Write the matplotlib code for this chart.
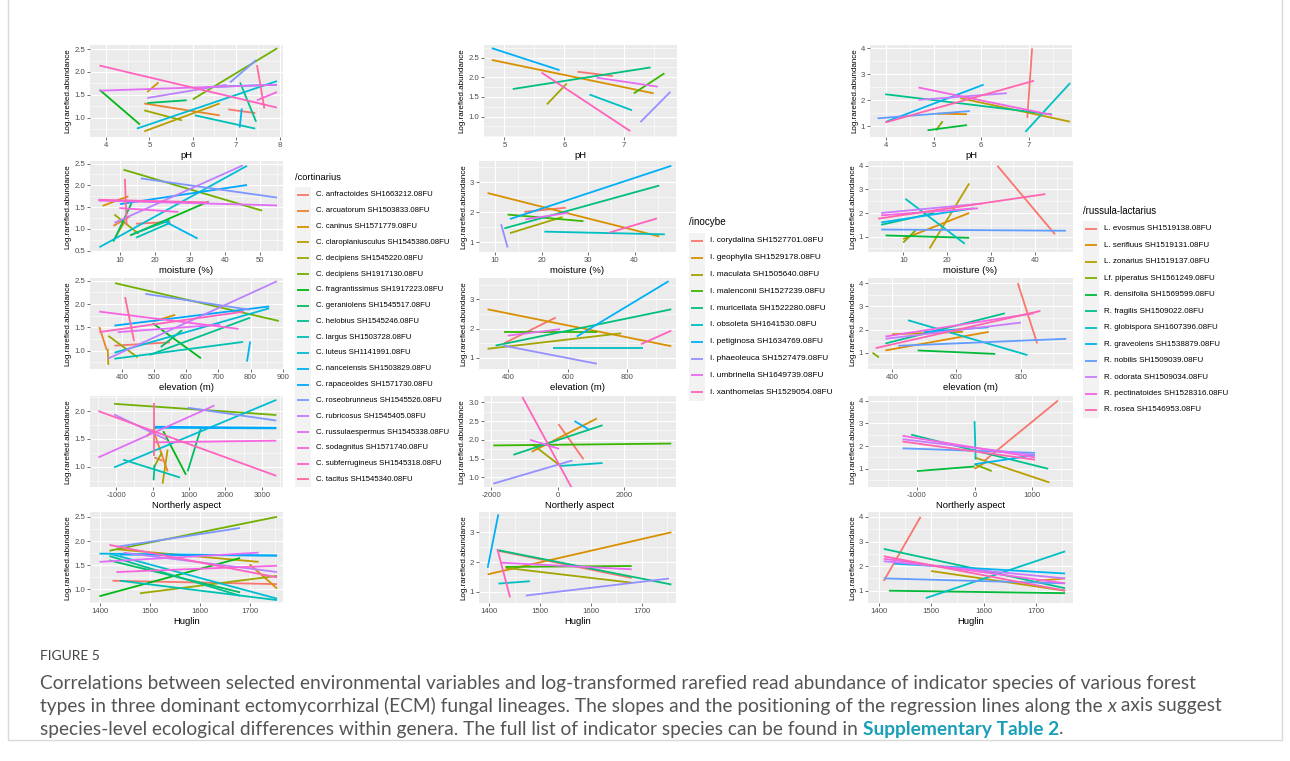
import matplotlib
matplotlib.use('Agg')
import matplotlib.pyplot as plt
import matplotlib.ticker as mtick
from matplotlib.patches import Rectangle
import numpy as np

# ---------- DATA ----------
cort_names = ['C. anfractoides SH1663212.08FU', 'C. arcuatorum SH1503833.08FU', 'C. caninus SH1571779.08FU',
              'C. claroplaniusculus SH1545386.08FU', 'C. decipiens SH1545220.08FU', 'C. decipiens SH1917130.08FU',
              'C. fragrantissimus SH1917223.08FU', 'C. geraniolens SH1545517.08FU', 'C. helobius SH1545246.08FU',
              'C. largus SH1503728.08FU', 'C. luteus SH1141991.08FU', 'C. nanceiensis SH1503829.08FU',
              'C. rapaceoides SH1571730.08FU', 'C. roseobrunneus SH1545526.08FU', 'C. rubricosus SH1545405.08FU',
              'C. russulaespermus SH1545338.08FU', 'C. sodagnitus SH1571740.08FU', 'C. subferrugineus SH1545318.08FU',
              'C. tacitus SH1545340.08FU']
ino_names = ['I. corydalina SH1527701.08FU', 'I. geophylla SH1529178.08FU', 'I. maculata SH1505640.08FU',
             'I. malenconii SH1527239.08FU', 'I. muricellata SH1522280.08FU', 'I. obsoleta SH1641530.08FU',
             'I. petiginosa SH1634769.08FU', 'I. phaeoleuca SH1527479.08FU', 'I. umbrinella SH1649739.08FU',
             'I. xanthomelas SH1529054.08FU']
rus_names = ['L. evosmus SH1519138.08FU', 'L. serifluus SH1519131.08FU', 'L. zonarius SH1519137.08FU',
             'Lf. piperatus SH1561249.08FU', 'R. densifolia SH1569599.08FU', 'R. fragilis SH1509022.08FU',
             'R. globispora SH1607396.08FU', 'R. graveolens SH1538879.08FU', 'R. nobilis SH1509039.08FU',
             'R. odorata SH1509034.08FU', 'R. pectinatoides SH1528316.08FU', 'R. rosea SH1546953.08FU']

# regression lines: (species, x start, y start, x end, y end)
cort_ph = [(0, 6.82, 1.18, 7.44, 1.10), (1, 4.88, 1.31, 6.62, 1.05), (2, 4.95, 1.56, 5.21, 1.77),
           (3, 4.88, 0.70, 6.62, 1.31), (4, 4.88, 1.16, 5.75, 0.94), (5, 6.0, 1.40, 7.95, 2.52),
           (6, 3.85, 1.61, 4.78, 0.85), (7, 4.95, 1.32, 5.86, 1.38), (8, 7.09, 1.77, 7.46, 0.91),
           (9, 6.05, 1.05, 7.44, 0.76), (10, 4.71, 0.76, 7.94, 1.80), (11, 7.08, 0.78, 7.13, 1.20),
           (12, 6.32, 1.67, 7.94, 1.72), (13, 6.86, 1.77, 7.46, 2.26), (14, 4.95, 1.43, 6.78, 1.72),
           (15, 3.85, 1.59, 7.94, 1.72), (16, 7.48, 1.38, 7.94, 1.56), (17, 3.85, 2.14, 7.94, 1.22),
           (18, 7.48, 2.15, 7.65, 1.20)]
cort_moist = [(0, 14.6, 1.12, 24.4, 1.16), (1, 8.1, 1.07, 12.9, 1.29), (2, 5.0, 1.53, 12.4, 1.75),
              (3, 8.1, 0.73, 11.4, 1.18), (4, 8.4, 1.33, 15.3, 0.89), (5, 11.0, 2.36, 50.7, 1.42),
              (6, 12.9, 0.85, 35.4, 1.63), (7, 8.1, 0.71, 13.3, 1.59), (8, 13.6, 0.88, 24.2, 1.20),
              (9, 14.6, 0.80, 24.4, 1.14), (10, 4.1, 0.58, 46.4, 2.45), (11, 22.4, 1.19, 32.2, 0.78),
              (12, 10.0, 1.57, 46.4, 2.01), (13, 16.0, 2.16, 55.0, 1.72), (14, 8.4, 1.14, 45.2, 2.46),
              (15, 3.8, 1.65, 55.0, 1.54), (16, 9.8, 1.48, 26.7, 1.39), (17, 3.8, 1.67, 35.4, 1.61),
              (18, 11.4, 2.15, 11.9, 1.10)]
cort_elev = [(0, 377, 1.11, 550, 1.18), (1, 330, 1.51, 353, 1.02), (2, 498, 1.63, 566, 1.77),
             (3, 356, 1.04, 358, 0.70), (4, 358, 1.32, 449, 0.86), (5, 379, 2.45, 888, 1.64),
             (6, 496, 1.59, 646, 0.84), (7, 521, 1.08, 587, 1.44), (8, 486, 0.91, 799, 1.71),
             (9, 377, 0.83, 777, 1.19), (10, 377, 0.96, 858, 1.91), (11, 789, 0.77, 799, 1.20),
             (12, 377, 1.54, 858, 1.95), (13, 473, 2.22, 797, 1.88), (14, 356, 0.83, 882, 2.49),
             (15, 387, 1.40, 706, 1.56), (16, 330, 1.84, 763, 1.47), (17, 330, 1.40, 779, 1.84),
             (18, 410, 2.15, 438, 1.21)]
cort_asp = [(0, 46, 1.17, 275, 1.11), (1, 46, 1.61, 413, 0.92), (2, -165, 1.55, 92, 1.70),
            (3, 275, 0.70, 413, 1.31), (4, 28, 0.98, 257, 1.26), (5, -1055, 2.13, 3394, 1.93),
            (6, 294, 1.64, 917, 0.86), (7, 963, 0.92, 1330, 1.70), (8, 28, 0.76, 55, 1.04),
            (9, -807, 1.13, 752, 0.81), (10, -1055, 0.99, 3394, 2.20), (11, 46, 1.70, 3394, 1.69),
            (12, 46, 1.72, 3394, 1.70), (13, 963, 2.06, 3394, 1.83), (14, -1055, 1.94, 385, 1.49),
            (15, -1486, 1.17, 1697, 2.10), (16, 46, 1.44, 3394, 1.47), (17, -1486, 2.00, 3394, 0.84),
            (18, 37, 2.15, 37, 1.19)]
cort_hug = [(0, 1425, 1.18, 1755, 1.11), (2, 1700, 1.52, 1755, 1.02), (3, 1433, 1.83, 1718, 1.57),
            (4, 1480, 0.92, 1755, 1.28), (5, 1419, 1.80, 1755, 2.50), (6, 1399, 0.86, 1681, 1.65),
            (7, 1419, 1.60, 1681, 0.94), (8, 1419, 1.69, 1681, 0.87), (9, 1440, 1.18, 1755, 0.78),
            (10, 1419, 1.74, 1755, 0.81), (11, 1399, 1.74, 1755, 1.70), (12, 1440, 1.72, 1755, 1.70),
            (13, 1433, 1.88, 1681, 2.27), (14, 1447, 1.76, 1755, 1.36), (15, 1399, 1.57, 1718, 1.76),
            (16, 1433, 1.36, 1755, 1.49), (17, 1419, 1.92, 1755, 1.25)]

ino_ph = [(0, 6.22, 2.14, 6.81, 2.03), (1, 4.79, 2.44, 7.49, 1.59), (2, 5.71, 1.31, 6.04, 1.84),
          (3, 7.16, 1.59, 7.67, 2.10), (4, 5.14, 1.70, 7.44, 2.25), (5, 6.42, 1.56, 7.13, 1.16),
          (6, 4.79, 2.74, 5.92, 2.18), (7, 7.27, 0.86, 7.77, 1.63), (8, 6.54, 1.99, 7.56, 1.76),
          (9, 5.62, 2.12, 7.10, 0.63)]
ino_moist = [(0, 16.3, 2.01, 25.2, 2.15), (1, 8.4, 2.64, 45.3, 1.19), (2, 13.2, 1.30, 24.5, 1.84),
             (3, 12.7, 1.92, 29.0, 1.70), (4, 12.0, 1.46, 45.3, 2.89), (5, 20.6, 1.35, 46.5, 1.26),
             (6, 13.2, 1.77, 47.9, 3.55), (7, 11.3, 1.60, 12.7, 0.82), (8, 16.5, 1.76, 25.8, 1.98),
             (9, 34.6, 1.32, 44.8, 1.79)]
ino_elev = [(0, 386, 1.50, 560, 2.38), (1, 330, 2.66, 950, 1.40), (2, 330, 1.31, 781, 1.84),
            (3, 386, 1.87, 699, 1.87), (4, 357, 1.42, 950, 2.66), (5, 552, 1.34, 856, 1.34),
            (6, 631, 1.73, 941, 3.62), (7, 383, 1.42, 699, 0.80), (8, 398, 1.76, 575, 1.98),
            (9, 848, 1.47, 950, 1.93)]
ino_asp = [(0, 20, 2.42, 774, 1.48), (1, -784, 1.68, 1176, 2.57), (2, -764, 1.88, 40, 1.33),
           (3, -1940, 1.85, 3417, 1.90), (4, -1337, 1.60, 1347, 2.39), (5, 40, 1.30, 1347, 1.38),
           (6, 503, 2.50, 945, 2.27), (7, -1940, 0.83, 442, 1.45), (8, -834, 2.00, 40, 1.76),
           (9, -1065, 3.14, 442, 0.68)]
ino_hug = [(0, 1418, 2.38, 1680, 1.47), (1, 1397, 1.59, 1758, 3.00), (2, 1432, 1.81, 1680, 1.31),
           (3, 1432, 1.84, 1680, 1.87), (4, 1418, 2.40, 1758, 1.25), (5, 1418, 1.28, 1480, 1.36),
           (6, 1397, 1.81, 1418, 3.60), (7, 1472, 0.88, 1753, 1.45), (8, 1424, 1.98, 1680, 1.76),
           (9, 1416, 2.44, 1441, 0.82)]

rus_ph = [(0, 6.97, 1.32, 7.07, 4.00), (1, 5.07, 1.48, 5.70, 1.46), (2, 5.56, 2.08, 7.87, 1.17),
          (3, 5.05, 0.84, 5.19, 1.19), (4, 4.87, 0.84, 5.70, 1.04), (5, 3.98, 2.23, 7.49, 1.45),
          (6, 6.93, 0.78, 7.87, 2.66), (7, 4.00, 1.17, 6.05, 2.60), (8, 3.82, 1.30, 5.76, 1.58),
          (9, 4.68, 2.01, 6.54, 2.27), (10, 4.68, 2.49, 7.49, 1.43), (11, 3.98, 1.14, 7.11, 2.75)]
rus_moist = [(0, 31.4, 4.00, 44.5, 1.10), (1, 10.0, 0.90, 25.0, 2.00), (2, 16.0, 0.50, 25.0, 3.25),
             (3, 10.0, 0.75, 13.0, 1.30), (4, 6.0, 1.05, 25.0, 0.95), (5, 5.0, 1.50, 17.0, 2.00),
             (6, 10.5, 2.60, 24.0, 0.70), (7, 5.0, 1.60, 26.0, 2.20), (8, 5.0, 1.30, 47.0, 1.25),
             (9, 5.0, 2.00, 28.0, 2.40), (10, 5.0, 1.90, 27.0, 2.20), (11, 4.3, 1.76, 42.3, 2.80)]
rus_elev = [(0, 790, 4.00, 850, 1.40), (1, 380, 1.10, 700, 1.90), (2, 400, 1.80, 620, 1.90),
            (3, 340, 1.00, 360, 0.80), (4, 480, 1.10, 720, 0.95), (5, 380, 1.40, 750, 2.70),
            (6, 450, 2.40, 820, 0.90), (7, 500, 1.90, 700, 2.10), (8, 420, 1.30, 940, 1.60),
            (9, 380, 1.60, 800, 2.30), (10, 380, 1.70, 840, 2.70), (11, 350, 1.20, 860, 2.80)]
rus_asp = [(0, 170, 1.35, 1450, 4.00), (1, 0, 1.00, 200, 1.30), (2, 0, 1.50, 1300, 0.40),
           (3, 0, 1.20, 300, 0.90), (4, -1000, 0.90, 0, 1.10), (5, -1100, 2.50, 1280, 1.00),
           (6, 0, 3.10, 20, 1.40), (7, 0, 1.20, 1050, 1.60), (8, -1250, 1.90, 1050, 1.70),
           (9, -1250, 2.30, 1050, 1.60), (10, -1250, 2.45, 1050, 1.50), (11, -1250, 2.20, 1050, 1.40)]
rus_hug = [(0, 1410, 1.40, 1480, 4.00), (1, 1700, 1.40, 1755, 1.50), (2, 1500, 1.80, 1755, 1.00),
           (4, 1420, 1.00, 1755, 0.90), (5, 1410, 2.70, 1755, 1.10), (6, 1490, 0.70, 1755, 2.60),
           (7, 1430, 2.10, 1755, 1.70), (8, 1410, 1.50, 1755, 1.30), (9, 1410, 2.20, 1755, 1.50),
           (10, 1410, 2.30, 1755, 1.30), (11, 1410, 2.40, 1755, 1.00)]

caption_lines = [
    'Correlations between selected environmental variables and log-transformed rarefied read abundance of indicator species of various forest',
    'types in three dominant ectomycorrhizal (ECM) fungal lineages. The slopes and the positioning of the regression lines along the ',
    'species-level ecological differences within genera. The full list of indicator species can be found in ',
]


# ---------- COLOURS (ggplot hue palette) ----------
def hue_pal(n):
    hs = np.radians((np.linspace(15, 375, n + 1)[:-1]) % 360)
    L, C = 65.0, 100.0
    Xn, Yn, Zn = 95.047, 100.0, 108.883
    Y = Yn * ((L + 16) / 116) ** 3
    un = 4 * Xn / (Xn + 15 * Yn + 3 * Zn)
    vn = 9 * Yn / (Xn + 15 * Yn + 3 * Zn)
    cols = []
    M = np.array([[3.240479, -1.537150, -0.498535],
                  [-0.969256, 1.875992, 0.041556],
                  [0.055648, -0.204043, 1.057311]])
    for h in hs:
        up = C * np.cos(h) / (13 * L) + un
        vp = C * np.sin(h) / (13 * L) + vn
        X = 9 * Y * up / (4 * vp)
        Z = -X / 3 - 5 * Y + 3 * Y / vp
        rgb = M @ np.array([X, Y, Z]) / 100
        rgb = np.where(rgb <= 0.0031308, 12.92 * rgb, 1.055 * np.abs(rgb) ** (1 / 2.4) - 0.055)
        cols.append(tuple(np.clip(rgb, 0, 1)))
    return cols


cort_cols = hue_pal(len(cort_names))
ino_cols = hue_pal(len(ino_names))
rus_cols = hue_pal(len(rus_names))

# ---------- FIGURE ----------
W, H = 1290, 761
plt.rcParams['font.family'] = ['Liberation Sans', 'DejaVu Sans']
fig = plt.figure(figsize=(W / 100, H / 100), dpi=100)
fig.patch.set_facecolor('white')

bg = fig.add_axes([0, 0, 1, 1])
bg.set_xlim(0, W)
bg.set_ylim(H, 0)
bg.axis('off')

# page frame
bg.plot([8, 8, 1282, 1282], [0, 740, 740, 0], color='#d9d9d9', lw=1)

tops = [45, 161, 278, 396, 512]
bots = [137, 252, 369, 487, 603]


def panel(left, right, row, lines, cols, xlim, ylim, xticks, yticks, xlabel, yfmt):
    ax = fig.add_axes([left / W, 1 - bots[row] / H, (right - left) / W, (bots[row] - tops[row]) / H])
    ax.set_facecolor('#EBEBEB')
    for sp, x0, y0, x1, y1 in lines:
        ax.plot([x0, x1], [y0, y1], color=cols[sp], lw=1.3, solid_capstyle='butt')
    ax.set_xlim(*xlim)
    ax.set_ylim(*ylim)
    ax.set_xticks(xticks)
    ax.set_yticks(yticks)
    ax.xaxis.set_minor_locator(mtick.AutoMinorLocator(2))
    ax.yaxis.set_minor_locator(mtick.AutoMinorLocator(2))
    ax.yaxis.set_major_formatter(mtick.FormatStrFormatter(yfmt))
    ax.xaxis.set_major_formatter(mtick.FuncFormatter(lambda v, p: '%d' % v if v >= 0 else '-%d' % -v))
    ax.grid(which='major', color='white', lw=0.8)
    ax.grid(which='minor', color='white', lw=0.4)
    ax.set_axisbelow(True)
    for s in ax.spines.values():
        s.set_visible(False)
    ax.tick_params(which='major', length=2, width=0.5, color='#333333', labelsize=5.6,
                   labelcolor='#4D4D4D', pad=1.5)
    ax.tick_params(which='minor', length=0)
    ax.set_xlabel(xlabel, fontsize=6.8, labelpad=1.5)
    ax.set_ylabel('Log.rarefied.abundance', fontsize=5.8, labelpad=2)
    return ax


# cortinarius column
panel(90, 283, 0, cort_ph, cort_cols, (3.63, 8.08), (0.576, 2.59), [4, 5, 6, 7, 8], [1.0, 1.5, 2.0, 2.5], 'pH', '%.1f')
panel(90, 283, 1, cort_moist, cort_cols, (1.4, 56.7), (0.47, 2.56), [10, 20, 30, 40, 50], [0.5, 1.0, 1.5, 2.0, 2.5], 'moisture (%)', '%.1f')
panel(90, 283, 2, cort_elev, cort_cols, (301, 901), (0.61, 2.56), [400, 500, 600, 700, 800, 900], [1.0, 1.5, 2.0, 2.5], 'elevation (m)', '%.1f')
panel(90, 283, 3, cort_asp, cort_cols, (-1716, 3578), (0.64, 2.27), [-1000, 0, 1000, 2000, 3000], [1.0, 1.5, 2.0], 'Northerly aspect', '%.1f')
panel(90, 283, 4, cort_hug, cort_cols, (1380, 1767), (0.72, 2.60), [1400, 1500, 1600, 1700], [1.0, 1.5, 2.0, 2.5], 'Huglin', '%.1f')

# inocybe column
panel(484, 677, 0, ino_ph, ino_cols, (4.66, 7.88), (0.48, 2.82), [5, 6, 7], [1.0, 1.5, 2.0, 2.5], 'pH', '%.1f')
panel(479, 676, 1, ino_moist, ino_cols, (6.55, 48.9), (0.67, 3.71), [10, 20, 30, 40], [1, 2, 3], 'moisture (%)', '%d')
panel(479, 676, 2, ino_elev, ino_cols, (301, 966), (0.62, 3.73), [400, 600, 800], [1, 2, 3], 'elevation (m)', '%d')
panel(484, 676, 3, ino_asp, ino_cols, (-2221, 3558), (0.74, 3.17), [-2000, 0, 2000], [1.0, 1.5, 2.0, 2.5, 3.0], 'Northerly aspect', '%.1f')
panel(479, 676, 4, ino_hug, ino_cols, (1380, 1767), (0.63, 3.68), [1400, 1500, 1600, 1700], [1, 2, 3], 'Huglin', '%d')

# russula-lactarius column
panel(870, 1072, 0, rus_ph, rus_cols, (3.66, 7.91), (0.58, 4.13), [4, 5, 6, 7], [1, 2, 3, 4], 'pH', '%d')
panel(868, 1073, 1, rus_moist, rus_cols, (2.0, 48.6), (0.35, 4.2), [10, 20, 30, 40], [1, 2, 3, 4], 'moisture (%)', '%d')
panel(868, 1073, 2, rus_elev, rus_cols, (326, 961), (0.3, 4.22), [400, 600, 800], [1, 2, 3, 4], 'elevation (m)', '%d')
panel(868, 1073, 3, rus_asp, rus_cols, (-1850, 1710), (0.2, 4.2), [-1000, 0, 1000], [1, 2, 3, 4], 'Northerly aspect', '%d')
panel(868, 1073, 4, rus_hug, rus_cols, (1380, 1770), (0.5, 4.2), [1400, 1500, 1600, 1700], [1, 2, 3, 4], 'Huglin', '%d')


# ---------- LEGENDS ----------
def legend(title, names, cols, kx0, kx1, ty, y0, dy, fs):
    bg.text(kx0, ty, title, fontsize=fs * 1.2, va='center', ha='left')
    bg.add_patch(Rectangle((kx0, y0 - dy / 2), kx1 - kx0, dy * len(names), facecolor='#F2F2F2', edgecolor='none'))
    for i, (n, c) in enumerate(zip(names, cols)):
        y = y0 + i * dy
        bg.plot([kx0 + 2, kx1 - 2], [y, y], color=c, lw=1.3, solid_capstyle='butt')
        bg.text(kx1 + 5, y, n, fontsize=fs, va='center', ha='left')


legend('/cortinarius', cort_names, cort_cols, 295, 311, 178, 195, 15.8, 5.6)
legend('/inocybe', ino_names, ino_cols, 689, 705, 222, 241, 16.8, 5.95)
legend('/russula-lactarius', rus_names, rus_cols, 1083, 1099, 211, 229, 16.45, 5.75)

# ---------- CAPTION ----------
cap = ['Lato', 'DejaVu Sans']
fs = 13.75
col = '#555555'
bg.text(40, 656, 'FIGURE 5', fontsize=10, color='#444444', va='center', ha='left', family=cap)
ys = [683, 706, 729]
bg.text(40, ys[0], caption_lines[0], fontsize=fs, color=col, va='center', ha='left', family=cap)
t = bg.text(40, ys[1], caption_lines[1], fontsize=fs, color=col, va='center', ha='left', family=cap)
t4 = bg.text(40, ys[2], caption_lines[2], fontsize=fs, color=col, va='center', ha='left', family=cap)
fig.canvas.draw()
r = fig.canvas.get_renderer()
x2 = t.get_window_extent(r).x1
t2 = bg.text(x2, H - ys[1], 'x', fontsize=fs, color=col, va='center', ha='left', family=cap,
             style='italic', transform=None)
bb2 = t2.get_window_extent(r)
bg.text(bb2.x1, H - ys[1], ' axis suggest', fontsize=fs, color=col, va='center', ha='left',
        family=cap, transform=None)
bb4 = t4.get_window_extent(r)
t5 = bg.text(bb4.x1, H - ys[2], 'Supplementary Table 2', fontsize=fs, color='#1a9fb8', va='center',
             ha='left', family=cap, weight='bold', transform=None)
bb5 = t5.get_window_extent(r)
bg.text(bb5.x1, H - ys[2], '.', fontsize=fs, color=col, va='center', ha='left', family=cap, transform=None)

fig.savefig('out.png', dpi=100)
